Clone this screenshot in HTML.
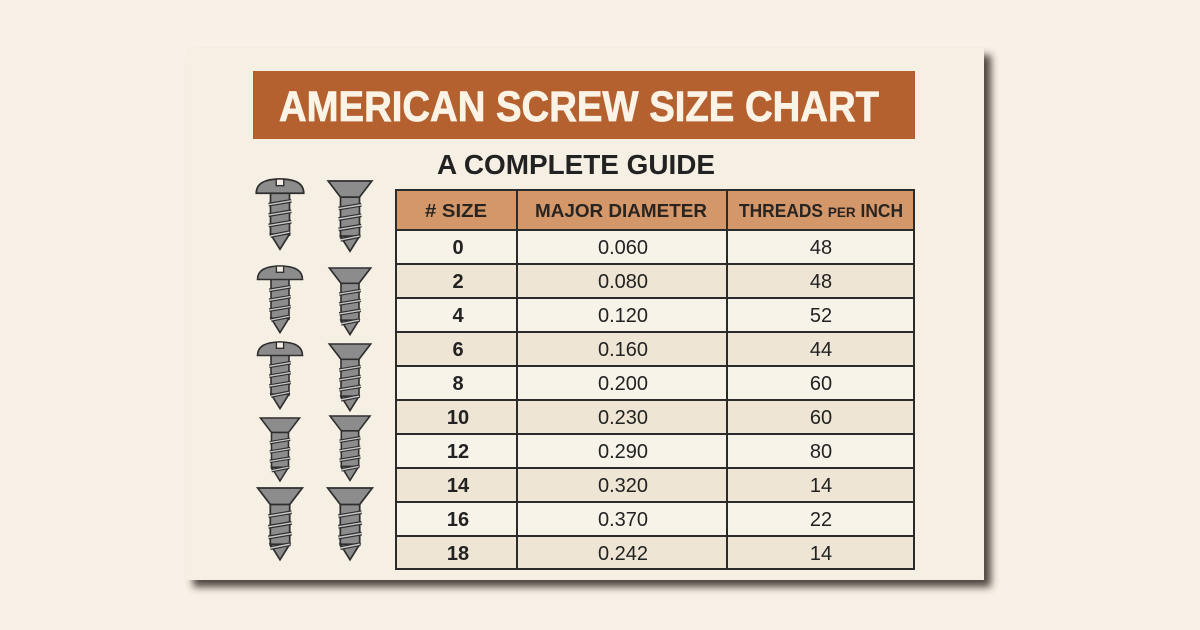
<!DOCTYPE html>
<html><head><meta charset="utf-8"><style>
html,body{margin:0;padding:0;background:#f8f1e7;}
svg{display:block;}
</style></head><body>
<svg width="1200" height="630" viewBox="0 0 1200 630" xmlns="http://www.w3.org/2000/svg" font-family="Liberation Sans, sans-serif">
<defs>
<filter id="sh" x="-10%" y="-10%" width="130%" height="130%"><feGaussianBlur stdDeviation="4"/></filter>
<g id="pan">
<rect x="-10" y="13" width="20" height="46" fill="#8c8c8c" stroke="#2e2e2e" stroke-width="1.8"/>
<polygon points="-10,58 10,58 0,74" fill="#8c8c8c" stroke="#2e2e2e" stroke-width="1.8"/>
<path d="M-25,15 Q-25,0 0,0 Q25,0 25,15 Z" fill="#8c8c8c" stroke="#2e2e2e" stroke-width="1.8"/>
<rect x="-4" y="0" width="8" height="7" fill="#f6f0e4" stroke="#2e2e2e" stroke-width="1.5"/>
<g stroke="#2e2e2e" stroke-width="4"><line x1="-12" y1="27" x2="12" y2="23"/><line x1="-12" y1="38" x2="12" y2="34"/><line x1="-12" y1="49" x2="12" y2="45"/><line x1="-10" y1="60" x2="10" y2="56"/></g>
<g stroke="#c8c8c8" stroke-width="1.5"><line x1="-12" y1="27" x2="12" y2="23"/><line x1="-12" y1="38" x2="12" y2="34"/><line x1="-12" y1="49" x2="12" y2="45"/><line x1="-10" y1="60" x2="10" y2="56"/></g>
</g>
<g id="flat">
<rect x="-10" y="14" width="20" height="45" fill="#8c8c8c" stroke="#2e2e2e" stroke-width="1.8"/>
<polygon points="-10,58 10,58 0,74" fill="#8c8c8c" stroke="#2e2e2e" stroke-width="1.8"/>
<polygon points="-23,0 23,0 10,17 -10,17" fill="#8c8c8c" stroke="#2e2e2e" stroke-width="1.8"/>
<g stroke="#2e2e2e" stroke-width="4"><line x1="-12" y1="29" x2="12" y2="25"/><line x1="-12" y1="40" x2="12" y2="36"/><line x1="-12" y1="51" x2="12" y2="47"/><line x1="-10" y1="62" x2="10" y2="58"/></g>
<g stroke="#c8c8c8" stroke-width="1.5"><line x1="-12" y1="29" x2="12" y2="25"/><line x1="-12" y1="40" x2="12" y2="36"/><line x1="-12" y1="51" x2="12" y2="47"/><line x1="-10" y1="62" x2="10" y2="58"/></g>
</g>
</defs>
<rect x="193" y="55" width="798" height="532" fill="#3e352e" filter="url(#sh)" opacity="0.9"/>
<rect x="186" y="48" width="798" height="532" fill="#f6f0e4"/>
<rect x="253" y="71" width="662" height="68" fill="#b5602f"/>
<text x="279" y="121" font-size="43" font-weight="bold" fill="#faf3e6" stroke="#faf3e6" stroke-width="0.8" textLength="600" lengthAdjust="spacingAndGlyphs">AMERICAN SCREW SIZE CHART</text>
<text x="437" y="174" font-size="28" font-weight="bold" fill="#222" textLength="278" lengthAdjust="spacingAndGlyphs">A COMPLETE GUIDE</text>
<g transform="translate(280,179) scale(0.95)"><use href="#pan"/></g>
<g transform="translate(350,181) scale(0.95)"><use href="#flat"/></g>
<g transform="translate(280,266) scale(0.9)"><use href="#pan"/></g>
<g transform="translate(350,268) scale(0.9)"><use href="#flat"/></g>
<g transform="translate(280,342) scale(0.9)"><use href="#pan"/></g>
<g transform="translate(350,344) scale(0.9)"><use href="#flat"/></g>
<g transform="translate(280,418) scale(0.85)"><use href="#flat"/></g>
<g transform="translate(350,416) scale(0.87)"><use href="#flat"/></g>
<g transform="translate(280,488) scale(0.97)"><use href="#flat"/></g>
<g transform="translate(350,488) scale(0.97)"><use href="#flat"/></g>
<rect x="396" y="190" width="518" height="40" fill="#d3976a"/>
<g>
<rect x="396" y="230" width="518" height="34" fill="#f8f3e9"/>
<rect x="396" y="264" width="518" height="34" fill="#efe5d4"/>
<rect x="396" y="298" width="518" height="34" fill="#f8f3e9"/>
<rect x="396" y="332" width="518" height="34" fill="#efe5d4"/>
<rect x="396" y="366" width="518" height="34" fill="#f8f3e9"/>
<rect x="396" y="400" width="518" height="34" fill="#efe5d4"/>
<rect x="396" y="434" width="518" height="34" fill="#f8f3e9"/>
<rect x="396" y="468" width="518" height="34" fill="#efe5d4"/>
<rect x="396" y="502" width="518" height="34" fill="#f8f3e9"/>
<rect x="396" y="536" width="518" height="33" fill="#efe5d4"/>
</g>
<g stroke="#2b2b2b" stroke-width="2" fill="none">
<rect x="396" y="190" width="518" height="379"/>
<line x1="517" y1="190" x2="517" y2="569"/>
<line x1="727" y1="190" x2="727" y2="569"/>
<line x1="396" y1="230" x2="914" y2="230"/>
<line x1="396" y1="264" x2="914" y2="264"/>
<line x1="396" y1="298" x2="914" y2="298"/>
<line x1="396" y1="332" x2="914" y2="332"/>
<line x1="396" y1="366" x2="914" y2="366"/>
<line x1="396" y1="400" x2="914" y2="400"/>
<line x1="396" y1="434" x2="914" y2="434"/>
<line x1="396" y1="468" x2="914" y2="468"/>
<line x1="396" y1="502" x2="914" y2="502"/>
<line x1="396" y1="536" x2="914" y2="536"/>
</g>
<g font-weight="bold" font-size="18" fill="#2a2420" text-anchor="middle">
<text x="456" y="217" textLength="62" lengthAdjust="spacingAndGlyphs"># SIZE</text>
<text x="621" y="217" textLength="172" lengthAdjust="spacingAndGlyphs">MAJOR DIAMETER</text>
<text x="821" y="217" textLength="164" lengthAdjust="spacingAndGlyphs">THREADS <tspan font-size="14">PER</tspan> INCH</text>
</g>
<g font-size="20" fill="#222" text-anchor="middle">
<g font-weight="bold">
<text x="458" y="254">0</text><text x="458" y="288">2</text><text x="458" y="322">4</text><text x="458" y="356">6</text><text x="458" y="390">8</text><text x="458" y="424">10</text><text x="458" y="458">12</text><text x="458" y="492">14</text><text x="458" y="526">16</text><text x="458" y="560">18</text>
</g>
<text x="623" y="254">0.060</text><text x="623" y="288">0.080</text><text x="623" y="322">0.120</text><text x="623" y="356">0.160</text><text x="623" y="390">0.200</text><text x="623" y="424">0.230</text><text x="623" y="458">0.290</text><text x="623" y="492">0.320</text><text x="623" y="526">0.370</text><text x="623" y="560">0.242</text>
<text x="821" y="254">48</text><text x="821" y="288">48</text><text x="821" y="322">52</text><text x="821" y="356">44</text><text x="821" y="390">60</text><text x="821" y="424">60</text><text x="821" y="458">80</text><text x="821" y="492">14</text><text x="821" y="526">22</text><text x="821" y="560">14</text>
</g>
</svg>
</body></html>
